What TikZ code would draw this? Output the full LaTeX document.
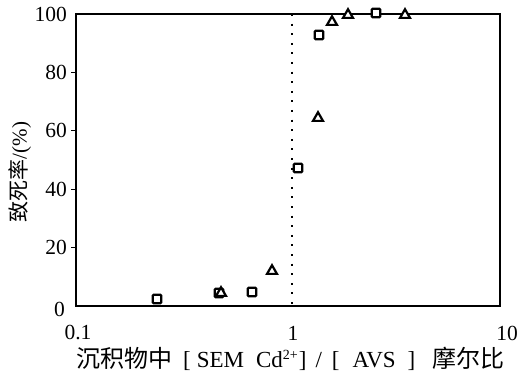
\documentclass[tikz,border=0pt]{standalone}
\usepackage{fontspec}
\usetikzlibrary{shapes.geometric}
\setmainfont{Liberation Serif}
\newfontfamily\cjk{Noto Sans CJK SC}
\begin{document}
\begin{tikzpicture}[x=1pt,y=-1pt,
  frame/.style={line width=2.2pt},
  sqmark/.style={draw,line width=2.2pt,minimum size=8.5pt,inner sep=0pt,rounded corners=1pt,fill=white},
  trimark/.style={draw,line width=2.2pt,regular polygon,regular polygon sides=3,minimum size=11.5pt,inner sep=0pt,fill=white},
  ticklab/.style={font=\fontsize{21.5}{24}\selectfont,inner sep=0pt},
  vline/.style={line width=1.6pt,dash pattern=on 2pt off 7.6pt}]
\useasboundingbox (0,0) rectangle (527,377);
\coordinate (tl) at (76,14);
\coordinate (br) at (500,306);
\coordinate (vtop) at (292,14);
\coordinate (vbot) at (292,306);
\draw[vline] (vtop) -- (vbot);
\draw[frame] (tl) rectangle (br);
% y ticks
\foreach \v/\yy in {20/247.6,40/189.2,60/130.8,80/72.4}{
  \draw[line width=1pt] (71,\yy) -- (76,\yy);
  \node[ticklab,anchor=east] (yl\v) at (67,\yy) {\v};
}
\node[ticklab,anchor=east] (yl100) at (67,14) {100};
\node[ticklab,anchor=east] (yl0) at (65,309) {0};
% x labels
\node[ticklab] (xl01) at (78,333) {0.1};
\node[ticklab] (xl1) at (293,333) {1};
\node[ticklab] (xl10) at (507,333) {10};
% axis titles
\node[inner sep=0pt,font=\fontsize{23}{26}\selectfont,anchor=west] (xtitle) at (76,359)
  {{\cjk\fontsize{24}{26}\selectfont 沉积物中}\hspace{11pt}[\hspace{6pt}SEM\hspace{12pt}Cd\raisebox{8pt}{\fontsize{14}{14}\selectfont 2+}\hspace{1pt}]\hspace{9pt}/\hspace{10pt}[\hspace{13pt}AVS\hspace{12pt}]\hspace{17pt}{\cjk\fontsize{24}{26}\selectfont 摩尔比}};
\node[inner sep=0pt,rotate=90,font=\fontsize{21}{24}\selectfont] (ytitle) at (20,172)
  {{\cjk 致死率}/(\%)};
% data: squares
\node[sqmark] (s1) at (157,299) {};
\node[sqmark] (s2) at (219,293) {};
\node[sqmark] (s3) at (252,292) {};
\node[sqmark] (s4) at (298,168) {};
\node[sqmark] (s5) at (319,35) {};
\node[sqmark] (s6) at (376,13) {};
% triangles
\node[trimark] (t1) at (221,293) {};
\node[trimark] (t2) at (272,271) {};
\node[trimark] (t3) at (318,118) {};
\node[trimark] (t4) at (332,22) {};
\node[trimark] (t5) at (348,15) {};
\node[trimark] (t6) at (405,15) {};
\end{tikzpicture}
\end{document}
